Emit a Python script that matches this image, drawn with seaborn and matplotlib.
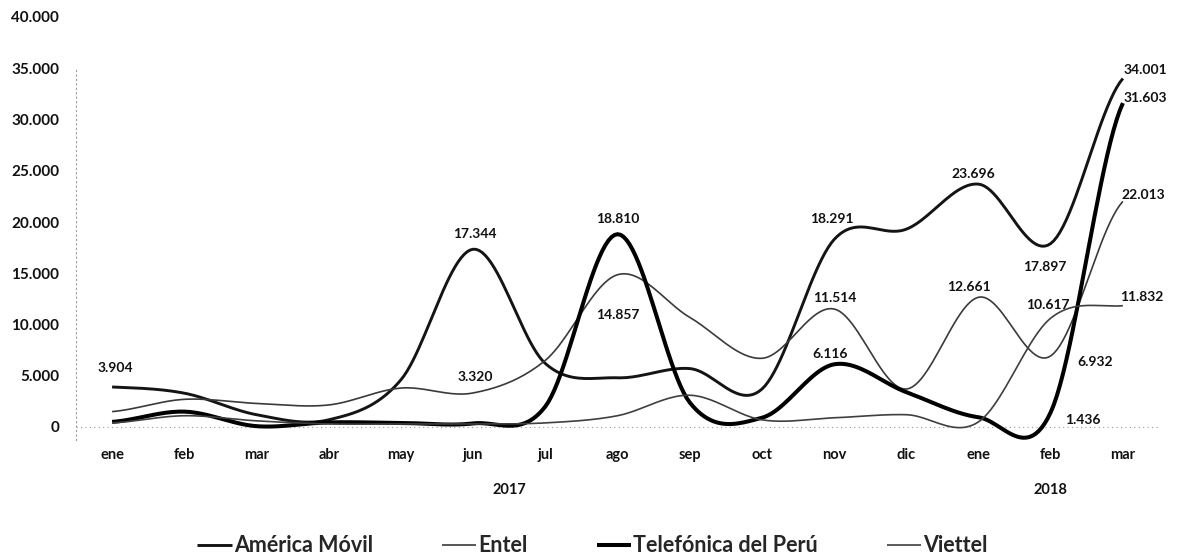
import numpy as np
import pandas as pd
import matplotlib
matplotlib.use("Agg")
import matplotlib.pyplot as plt
import matplotlib.transforms as mtransforms
from matplotlib.ticker import FuncFormatter
import seaborn as sns

# ---- data -------------------------------------------------------------
months = ["ene", "feb", "mar", "abr", "may", "jun", "jul", "ago",
          "sep", "oct", "nov", "dic", "ene", "feb", "mar"]
years = ["2017", "2018"]
year_spans = [(0, 11), (12, 14)]

series_names = ["América Móvil", "Entel", "Telefónica del Perú", "Viettel"]

america_movil = [3904, 3300, 1200, 700, 4600, 17344, 6200, 4800,
                 5700, 3700, 18291, 19300, 23696, 17897, 34001]
entel = [1500, 2700, 2300, 2150, 3800, 3320, 6500, 14857,
         10700, 6700, 11514, 3700, 12661, 6932, 22013]
telefonica = [500, 1500, 80, 450, 400, 350, 2000, 18810,
              2400, 900, 6116, 3400, 950, 1436, 31603]
viettel = [400, 1100, 600, 300, 300, 300, 400, 1100,
           3100, 700, 900, 1200, 500, 10617, 11832]

values = {
    "América Móvil": america_movil,
    "Entel": entel,
    "Telefónica del Perú": telefonica,
    "Viettel": viettel,
}

# labelled points: (series, month index, offset in pixels dx, dy)
labelled = [
    ("América Móvil", 0, 3, 19), ("América Móvil", 5, 2, 15),
    ("América Móvil", 10, -2, 21), ("América Móvil", 12, -5, 10),
    ("América Móvil", 13, -6, -23), ("América Móvil", 14, 22, 8),
    ("Telefónica del Perú", 7, 0, 15), ("Telefónica del Perú", 10, -4, 10),
    ("Telefónica del Perú", 13, 32, -8), ("Telefónica del Perú", 14, 22, 5),
    ("Entel", 5, 2, 16), ("Entel", 7, 0, -40), ("Entel", 10, 1, 11),
    ("Entel", 12, -10, 10), ("Entel", 13, 44, -6), ("Entel", 14, 20, 6),
    ("Viettel", 13, -3, 13), ("Viettel", 14, 19, 9),
]

styles = {
    "América Móvil": dict(color="#141414", linewidth=2.1),
    "Entel": dict(color="#3a3a3a", linewidth=1.2),
    "Telefónica del Perú": dict(color="#000000", linewidth=2.9),
    "Viettel": dict(color="#3f3f3f", linewidth=1.2),
}


def smooth_curve(y, samples=24):
    """Catmull-Rom curve through the points, like a smoothed line chart."""
    y = np.asarray(y, dtype=float)
    n = len(y)
    m = np.empty(n)
    m[1:-1] = (y[2:] - y[:-2]) / 2.0
    m[0] = (y[1] - y[0]) / 2.0
    m[-1] = (y[-1] - y[-2]) / 2.0
    xs, ys = [], []
    for i in range(n - 1):
        t = np.linspace(0, 1, samples, endpoint=(i == n - 2))
        h00 = 2 * t**3 - 3 * t**2 + 1
        h10 = t**3 - 2 * t**2 + t
        h01 = -2 * t**3 + 3 * t**2
        h11 = t**3 - t**2
        xs.append(i + t)
        ys.append(h00 * y[i] + h10 * m[i] + h01 * y[i + 1] + h11 * m[i + 1])
    return np.concatenate(xs), np.concatenate(ys)


def fmt_thousands(v):
    return f"{int(round(v)):,}".replace(",", ".")


# ---- figure -----------------------------------------------------------
sns.set_theme(style="white")
plt.rcParams["font.family"] = ["Lato", "DejaVu Sans"]
plt.rcParams["font.weight"] = "bold"

W, H = 1178, 559
fig = plt.figure(figsize=(W / 100, H / 100), dpi=100)
fig.patch.set_facecolor("white")

ymin, ymax = -1500, 40000
px_per_unit = 0.01025
ax_left, ax_right = 76, 1159
ax_top = 427 - ymax * px_per_unit
ax_bottom = 427 - ymin * px_per_unit
ax = fig.add_axes([ax_left / W, (H - ax_bottom) / H,
                   (ax_right - ax_left) / W, (ax_bottom - ax_top) / H])
ax.set_facecolor("white")

frames = []
for name in series_names:
    sx, sy = smooth_curve(values[name])
    frames.append(pd.DataFrame({"x": sx, "y": sy, "serie": name}))
curves = pd.concat(frames, ignore_index=True)

for name in series_names:
    d = curves[curves["serie"] == name]
    sns.lineplot(data=d, x="x", y="y", ax=ax, sort=False, estimator=None,
                 label=name, solid_capstyle="butt", **styles[name])

for name, i, dx, dy in labelled:
    v = values[name][i]
    ax.annotate(fmt_thousands(v), xy=(i, v), xytext=(dx, dy),
                textcoords="offset pixels", ha="center", va="center",
                fontsize=10, fontweight="bold", color="#111111")

ax.set_xlim(-0.5, len(months) - 0.5)
ax.set_ylim(ymin, ymax)
ax.set_xticks(range(len(months)))
ax.set_xticklabels(months)
ax.set_yticks(np.arange(0, 40001, 5000))
ax.yaxis.set_major_formatter(FuncFormatter(lambda v, p: fmt_thousands(v)))
ax.tick_params(axis="y", length=0, pad=12, labelsize=11, labelcolor="#111111")
ax.tick_params(axis="x", length=0, pad=4, labelsize=10.5, labelcolor="#111111")
for lab in ax.get_xticklabels() + ax.get_yticklabels():
    lab.set_fontweight("bold")
ax.set_xlabel("")
ax.set_ylabel("")
ax.grid(False)

for side in ["top", "right", "bottom"]:
    ax.spines[side].set_visible(False)
ax.spines["left"].set_linestyle((0, (1, 3)))
ax.spines["left"].set_color("#9a9a9a")
ax.spines["left"].set_linewidth(0.8)
ax.spines["left"].set_bounds(-1300, 35000)
ax.axhline(0, color="#9a9a9a", linewidth=0.8, linestyle=(0, (1, 3)), zorder=0)

# second level of the category axis
trans = mtransforms.blended_transform_factory(ax.transData, ax.transAxes)
for year, (a, b) in zip(years, year_spans):
    ax.text((a + b) / 2, -0.113, year, transform=trans, ha="center",
            va="center", fontsize=10.5, fontweight="bold", color="#111111")

ax.get_legend().remove()
handles, labels = ax.get_legend_handles_labels()
leg = fig.legend(handles, labels, loc="center", bbox_to_anchor=(0.503, 0.024),
                 ncol=4, frameon=False, handlelength=1.6, handletextpad=0.1,
                 columnspacing=3.2, prop={"size": 15.5, "weight": "bold"})

fig.savefig("out.png", dpi=100, facecolor="white")
